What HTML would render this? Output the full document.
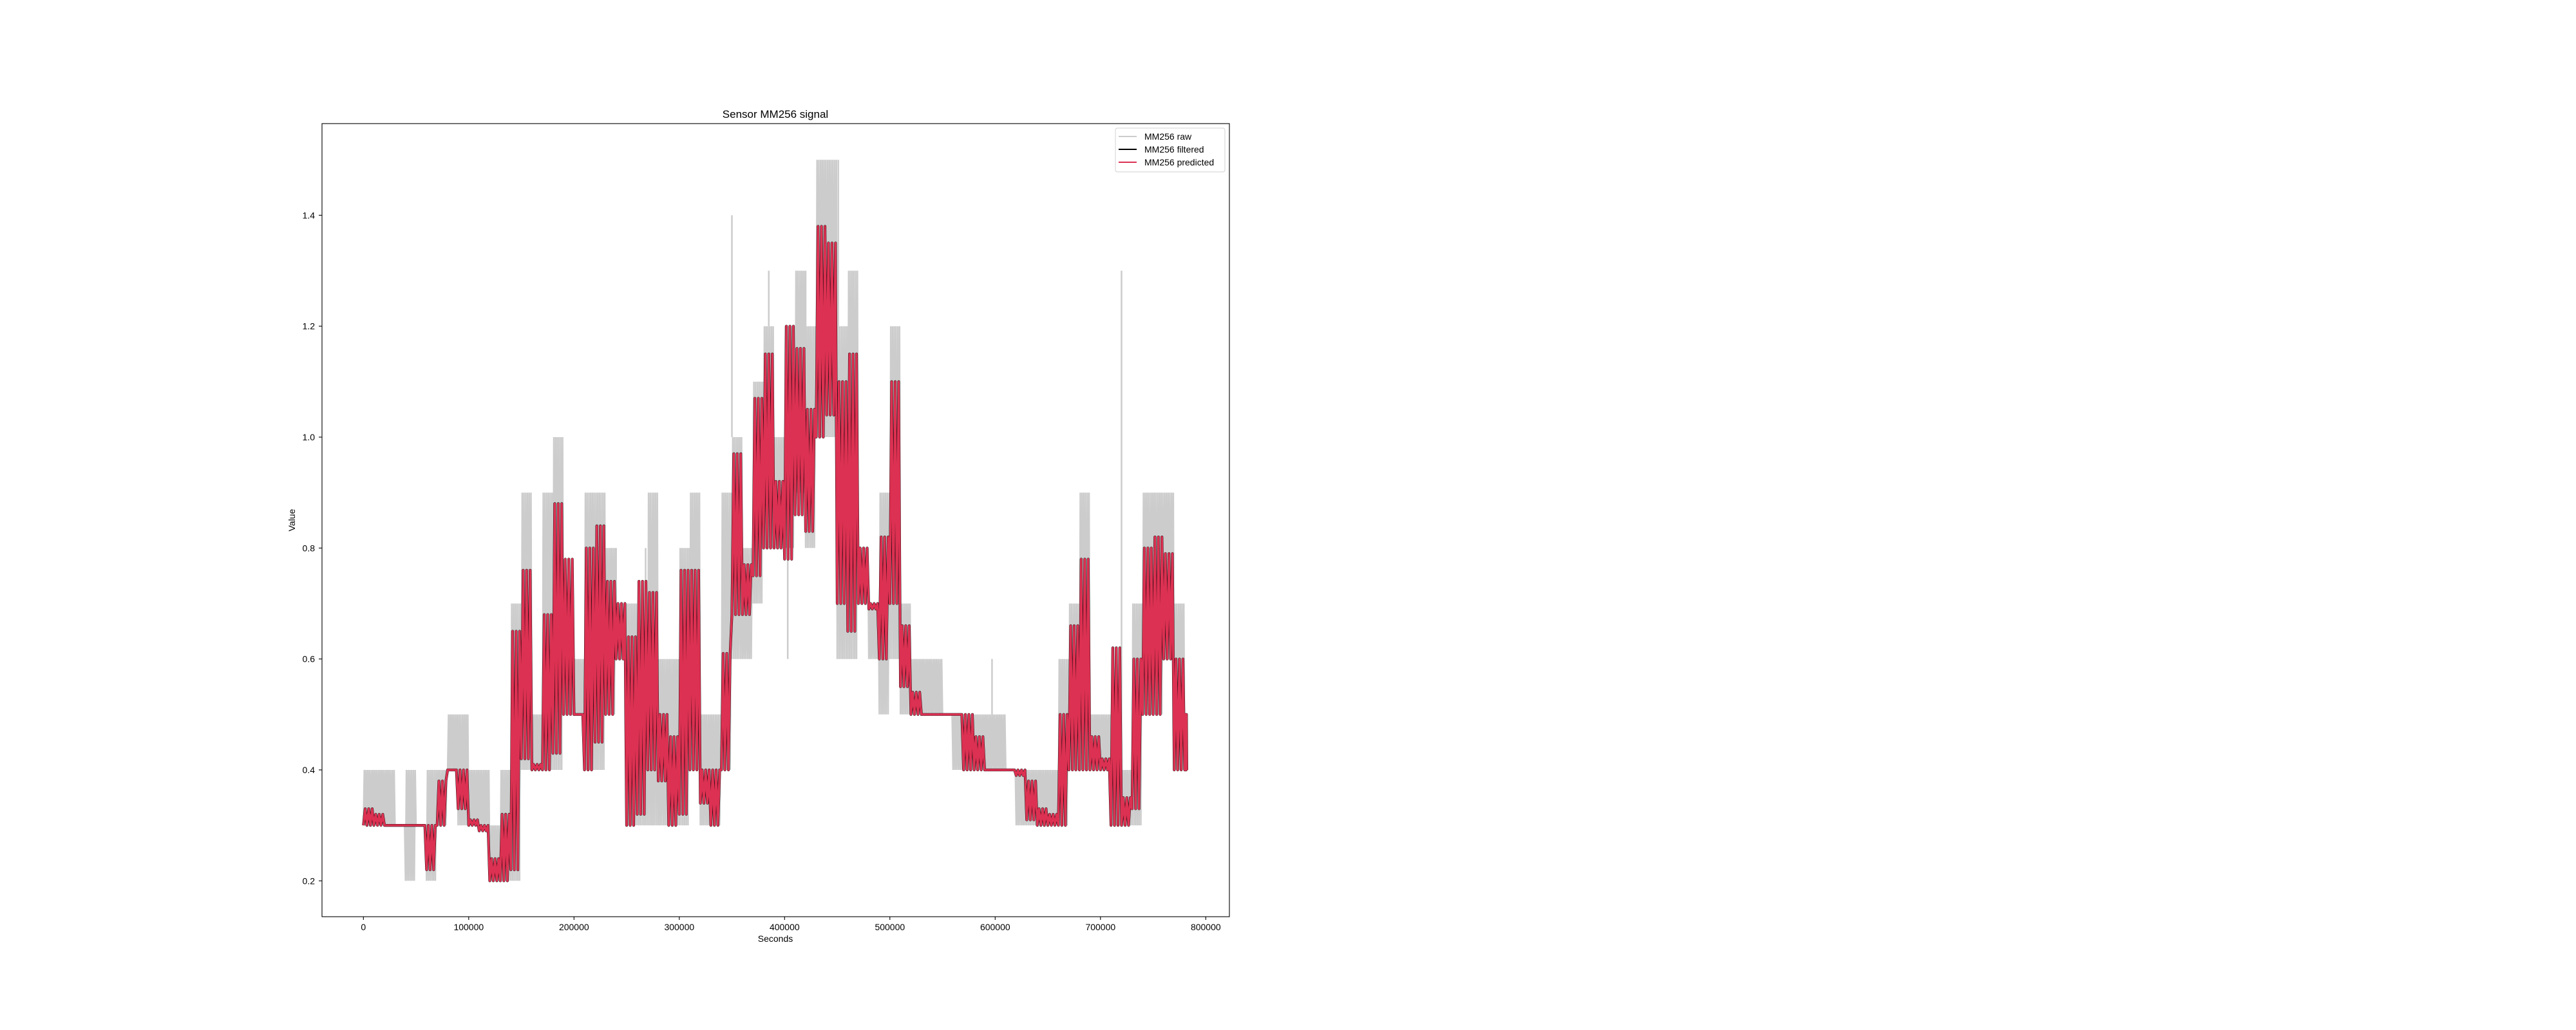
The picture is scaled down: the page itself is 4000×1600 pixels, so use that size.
<!DOCTYPE html>
<html><head><meta charset="utf-8">
<style>
html,body{margin:0;padding:0;background:#fff;}
svg{display:block;font-family:"Liberation Sans","DejaVu Sans",sans-serif;}
</style></head>
<body>
<svg id="chart" width="4000" height="1600" viewBox="0 0 4000 1600" xmlns="http://www.w3.org/2000/svg">
<rect x="0" y="0" width="4000" height="1600" fill="#fff"/>
<text x="1204" y="183" font-size="17" text-anchor="middle" fill="#000">Sensor MM256 signal</text>
<g id="plot"></g>
<g id="axes"></g>
<text x="1204" y="1463" font-size="14" text-anchor="middle">Seconds</text>
<text x="0" y="0" font-size="14" text-anchor="middle" transform="translate(458,808) rotate(-90)">Value</text>
<g>
<rect x="1732" y="199" width="170" height="68" rx="3" fill="#fff" fill-opacity="0.8" stroke="#d0d0d0" stroke-width="1"/>
<g><line x1="1737" y1="212" x2="1765" y2="212" stroke="#cccccc" stroke-width="2"/><text x="1777" y="217" font-size="14">MM256 raw</text></g>
<g><line x1="1737" y1="232" x2="1765" y2="232" stroke="#000" stroke-width="2"/><text x="1777" y="237" font-size="14">MM256 filtered</text></g>
<g><line x1="1737" y1="252" x2="1765" y2="252" stroke="#dc3152" stroke-width="2"/><text x="1777" y="257" font-size="14">MM256 predicted</text></g>
</g>
</svg>
<script>
// 10000-second bins, starting at t=0
const binSize = 10000;
const rawLow  = [0.3,0.3,0.3,0.3,0.2,0.3,0.2,0.3,0.4,0.3, 0.3,0.3,0.2,0.2,0.2,0.4,0.4,0.4,0.4,0.5, 0.5,0.4,0.4,0.5,0.6,0.3,0.3,0.3,0.3,0.3, 0.3,0.4,0.3,0.3,0.4,0.6,0.6,0.7,0.8,0.8, 0.8,0.9,0.8,1.0,1.0,0.6,0.6,0.7,0.6,0.5, 0.6,0.5,0.5,0.5,0.5,0.5,0.4,0.4,0.4,0.4, 0.4,0.4,0.3,0.3,0.3,0.3,0.3,0.4,0.4,0.4, 0.4,0.3,0.3,0.3,0.5,0.5,0.6,0.4,0.4];
const rawHigh = [0.4,0.4,0.4,0.3,0.4,0.3,0.4,0.4,0.5,0.5, 0.4,0.4,0.3,0.4,0.7,0.9,0.5,0.9,1.0,0.6, 0.6,0.9,0.9,0.8,0.7,0.7,0.6,0.9,0.6,0.6, 0.8,0.9,0.5,0.5,0.9,1.0,0.8,1.1,1.2,1.0, 1.2,1.3,1.2,1.5,1.5,1.2,1.3,0.8,0.7,0.9, 1.2,0.7,0.6,0.6,0.6,0.5,0.5,0.5,0.5,0.5, 0.5,0.4,0.4,0.4,0.4,0.4,0.6,0.7,0.9,0.5, 0.5,0.5,0.4,0.7,0.9,0.9,0.9,0.7,0.5];
const predLow  = [0.30,0.30,0.30,0.30,0.30,0.30,0.22,0.30,0.40,0.33, 0.30,0.29,0.20,0.20,0.22,0.42,0.40,0.40,0.43,0.50, 0.50,0.40,0.45,0.50,0.60,0.30,0.32,0.40,0.38,0.30, 0.32,0.40,0.34,0.30,0.40,0.68,0.68,0.75,0.80,0.80, 0.78,0.86,0.83,1.00,1.04,0.70,0.65,0.70,0.69,0.60, 0.70,0.55,0.50,0.50,0.50,0.50,0.50,0.40,0.40,0.40, 0.40,0.40,0.39,0.31,0.30,0.30,0.30,0.40,0.40,0.40, 0.40,0.30,0.30,0.33,0.50,0.50,0.60,0.40,0.40];
const predHigh = [0.33,0.32,0.30,0.30,0.30,0.30,0.30,0.38,0.40,0.40, 0.31,0.30,0.24,0.32,0.65,0.76,0.41,0.68,0.88,0.78, 0.50,0.80,0.84,0.74,0.70,0.64,0.74,0.72,0.50,0.46, 0.76,0.76,0.40,0.40,0.61,0.97,0.77,1.07,1.15,0.92, 1.20,1.16,1.05,1.38,1.35,1.10,1.15,0.80,0.70,0.82, 1.10,0.66,0.54,0.50,0.50,0.50,0.50,0.50,0.46,0.40, 0.40,0.40,0.40,0.38,0.33,0.32,0.50,0.66,0.78,0.46, 0.42,0.62,0.35,0.60,0.80,0.82,0.79,0.60,0.50];
const filtLow  = predLow;
const filtHigh = predHigh;
const spikeTimes  = [41000,152000,186000,189000,240000,268000,350000,385000,403000,413000,420000,437000,440000,447000,451000,463000,468000,503000,597000,720000];
const spikeValues = [0.2,0.9,1.0,1.0,0.8,0.8,1.4,1.3,0.6,1.3,1.3,1.4,1.5,1.4,1.5,1.3,1.3,1.2,0.6,1.3];
const xTicks = [0,100000,200000,300000,400000,500000,600000,700000,800000];
const yTicks = [0.2,0.4,0.6,0.8,1.0,1.2,1.4];
const tEnd = 782000;

const NS = "http://www.w3.org/2000/svg";
const X0 = 564.3, PXPERSEC = 163.5/100000;
const Y02 = 1368.3, PXPERUNIT = 861.6;
function xs(t){ return X0 + t*PXPERSEC; }
function ys(v){ return Y02 - (v-0.2)*PXPERUNIT; }

const plot = document.getElementById('plot');
const axes = document.getElementById('axes');

function bandPath(lo, hi, sub){
  let d = '';
  for (let i=0;i<lo.length;i++){
    const t0 = i*binSize, t1 = Math.min((i+1)*binSize, tEnd);
    for (let k=0;k<sub;k++){
      const t = t0 + (t1-t0)*k/sub;
      const v = (k%2===0) ? lo[i] : hi[i];
      d += (d===''?'M':'L') + xs(t).toFixed(1) + ',' + ys(v).toFixed(1) + ' ';
    }
  }
  d += 'L' + xs(tEnd).toFixed(1) + ',' + ys(lo[lo.length-1]).toFixed(1);
  return d;
}

const raw = document.createElementNS(NS,'path');


raw.setAttribute('d', bandPath(rawLow, rawHigh, 12));
raw.setAttribute('fill','none'); raw.setAttribute('stroke','#cccccc'); raw.setAttribute('stroke-width','2.5');
plot.appendChild(raw);

for (let i=0;i<spikeTimes.length;i++){
  const s = document.createElementNS(NS,'line');
  
  
  const bin = Math.floor(spikeTimes[i]/binSize);
  const base = spikeValues[i] < rawLow[bin] ? rawLow[bin] : Math.min(spikeValues[i], rawHigh[bin]);
  s.setAttribute('x1', xs(spikeTimes[i])); s.setAttribute('x2', xs(spikeTimes[i]));
  s.setAttribute('y1', ys(base)); s.setAttribute('y2', ys(spikeValues[i]));
  s.setAttribute('stroke','#cccccc'); s.setAttribute('stroke-width','2.5');
  plot.appendChild(s);
}

const filt = document.createElementNS(NS,'path');


filt.setAttribute('d', bandPath(filtLow, filtHigh, 6));
filt.setAttribute('fill','none'); filt.setAttribute('stroke','#000'); filt.setAttribute('stroke-width','4.2');
filt.setAttribute('stroke-linejoin','round');
plot.appendChild(filt);

const pred = document.createElementNS(NS,'path');


pred.setAttribute('d', bandPath(predLow, predHigh, 6));
pred.setAttribute('fill','none'); pred.setAttribute('stroke','#dc3152'); pred.setAttribute('stroke-width','3.4');
pred.setAttribute('stroke-linejoin','round');
plot.appendChild(pred);

const frame = document.createElementNS(NS,'rect');


frame.setAttribute('x','500'); frame.setAttribute('y','192');
frame.setAttribute('width','1409'); frame.setAttribute('height','1232');
frame.setAttribute('fill','none'); frame.setAttribute('stroke','#000'); frame.setAttribute('stroke-width','1.1');
axes.appendChild(frame);

xTicks.forEach(t=>{
  const l = document.createElementNS(NS,'line');
  
  
  l.setAttribute('x1', xs(t)); l.setAttribute('x2', xs(t));
  l.setAttribute('y1', 1424); l.setAttribute('y2', 1429);
  l.setAttribute('stroke','#000'); l.setAttribute('stroke-width','1.1');
  axes.appendChild(l);
  const tx = document.createElementNS(NS,'text');
  
  
  tx.setAttribute('x', xs(t)); tx.setAttribute('y', 1445);
  tx.setAttribute('font-size','14'); tx.setAttribute('text-anchor','middle');
  tx.textContent = String(t);
  axes.appendChild(tx);
});
yTicks.forEach(v=>{
  const l = document.createElementNS(NS,'line');
  
  
  l.setAttribute('x1', 495); l.setAttribute('x2', 500);
  l.setAttribute('y1', ys(v)); l.setAttribute('y2', ys(v));
  l.setAttribute('stroke','#000'); l.setAttribute('stroke-width','1.1');
  axes.appendChild(l);
  const tx = document.createElementNS(NS,'text');
  
  
  tx.setAttribute('x', 489); tx.setAttribute('y', ys(v)+5);
  tx.setAttribute('font-size','14'); tx.setAttribute('text-anchor','end');
  tx.textContent = v.toFixed(1);
  axes.appendChild(tx);
});
</script>
</body></html>
